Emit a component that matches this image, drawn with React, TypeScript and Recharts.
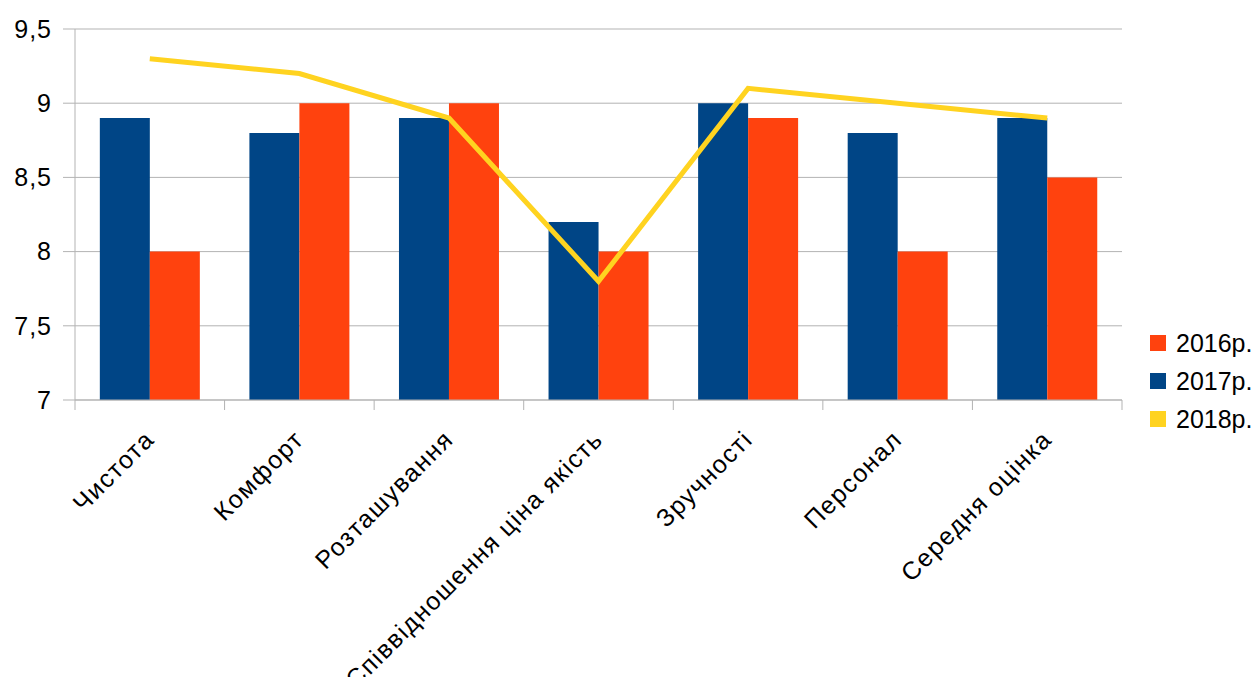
import {
  ComposedChart,
  Bar,
  Line,
  XAxis,
  YAxis,
  CartesianGrid,
  Legend,
} from "recharts";

const categories = [
  "Чистота",
  "Комфорт",
  "Розташування",
  "Співвідношення ціна якість",
  "Зручності",
  "Персонал",
  "Середня оцінка",
];
const values2016 = [8.0, 9.0, 9.0, 8.0, 8.9, 8.0, 8.5];
const values2017 = [8.9, 8.8, 8.9, 8.2, 9.0, 8.8, 8.9];
const values2018 = [9.3, 9.2, 8.9, 7.8, 9.1, 9.0, 8.9];
const yTicks = [7, 7.5, 8, 8.5, 9, 9.5];
const seriesNames = ["2016р.", "2017р.", "2018р."];

const data = categories.map((name, i) => ({
  name,
  y2016: values2016[i],
  y2017: values2017[i],
  y2018: values2018[i],
}));

const COLORS = ["#ff420e", "#004586", "#ffd320"];
const GRID = "#b3b3b3";
const FONT = "'Liberation Sans', Arial, sans-serif";

const W = 1252;
const H = 677;
const M = { top: 29, right: 130, left: 0, bottom: 0 };
const Y_W = 75;
const PLOT_W = W - M.right - Y_W;
const BAND = PLOT_W / categories.length;

function CategoryTick(props: any) {
  const { x, y, payload } = props;
  const idx = payload?.index ?? props.index ?? 0;
  const tx = x + 6;
  const ty = y + 41;
  return (
    <g>
      <line x1={x - BAND / 2} x2={x - BAND / 2} y1={y} y2={y + 10} stroke={GRID} />
      {idx === categories.length - 1 && (
        <line x1={x + BAND / 2} x2={x + BAND / 2} y1={y} y2={y + 10} stroke={GRID} />
      )}
      <text
        x={tx}
        y={ty}
        transform={`rotate(-45, ${tx}, ${ty})`}
        textAnchor="end"
        fontSize={25}
        fontFamily={FONT}
        letterSpacing={1.4}
        fill="#000"
      >
        {payload.value}
      </text>
    </g>
  );
}

function LegendBox() {
  return (
    <div style={{ fontFamily: FONT, fontSize: 25, color: "#000" }}>
      {seriesNames.map((n, i) => (
        <div
          key={n}
          style={{ display: "flex", alignItems: "center", height: 38, whiteSpace: "nowrap" }}
        >
          <span
            style={{
              display: "inline-block",
              width: 16,
              height: 16,
              background: COLORS[i],
              marginRight: 10,
            }}
          />
          {n}
        </div>
      ))}
    </div>
  );
}

export default function App() {
  return (
    <div style={{ position: "absolute", left: 0, top: 0, width: W, height: H, background: "#fff" }}>
      <ComposedChart
        width={W}
        height={H}
        data={data}
        margin={M}
        barGap={0}
        barCategoryGap="16.6%"
      >
        <CartesianGrid vertical={false} stroke={GRID} />
        <XAxis
          dataKey="name"
          height={H - 400}
          interval={0}
          tickLine={false}
          tickSize={0}
          tickMargin={0}
          axisLine={{ stroke: GRID }}
          tick={<CategoryTick />}
        />
        <YAxis
          width={Y_W}
          domain={[7, 9.5]}
          ticks={yTicks}
          allowDataOverflow
          tickSize={12}
          tickMargin={11}
          axisLine={{ stroke: GRID }}
          tickLine={{ stroke: GRID }}
          tickFormatter={(v: number) => String(v).replace(".", ",")}
          tick={{ fill: "#000", fontSize: 25, fontFamily: FONT, letterSpacing: 1 }}
        />
        <YAxis
          yAxisId="frame"
          orientation="right"
          width={0}
          domain={[7, 9.5]}
          tick={false}
          tickLine={false}
          axisLine={{ stroke: GRID }}
        />
        <Bar dataKey="y2017" fill={COLORS[1]} isAnimationActive={false} />
        <Bar dataKey="y2016" fill={COLORS[0]} isAnimationActive={false} />
        <Line
          type="linear"
          dataKey="y2018"
          stroke={COLORS[2]}
          strokeWidth={5}
          dot={false}
          isAnimationActive={false}
        />
        <Legend
          layout="vertical"
          align="center"
          verticalAlign="middle"
          content={() => <LegendBox />}
          wrapperStyle={{ left: 1150, top: 324, width: 110 }}
        />
      </ComposedChart>
    </div>
  );
}
